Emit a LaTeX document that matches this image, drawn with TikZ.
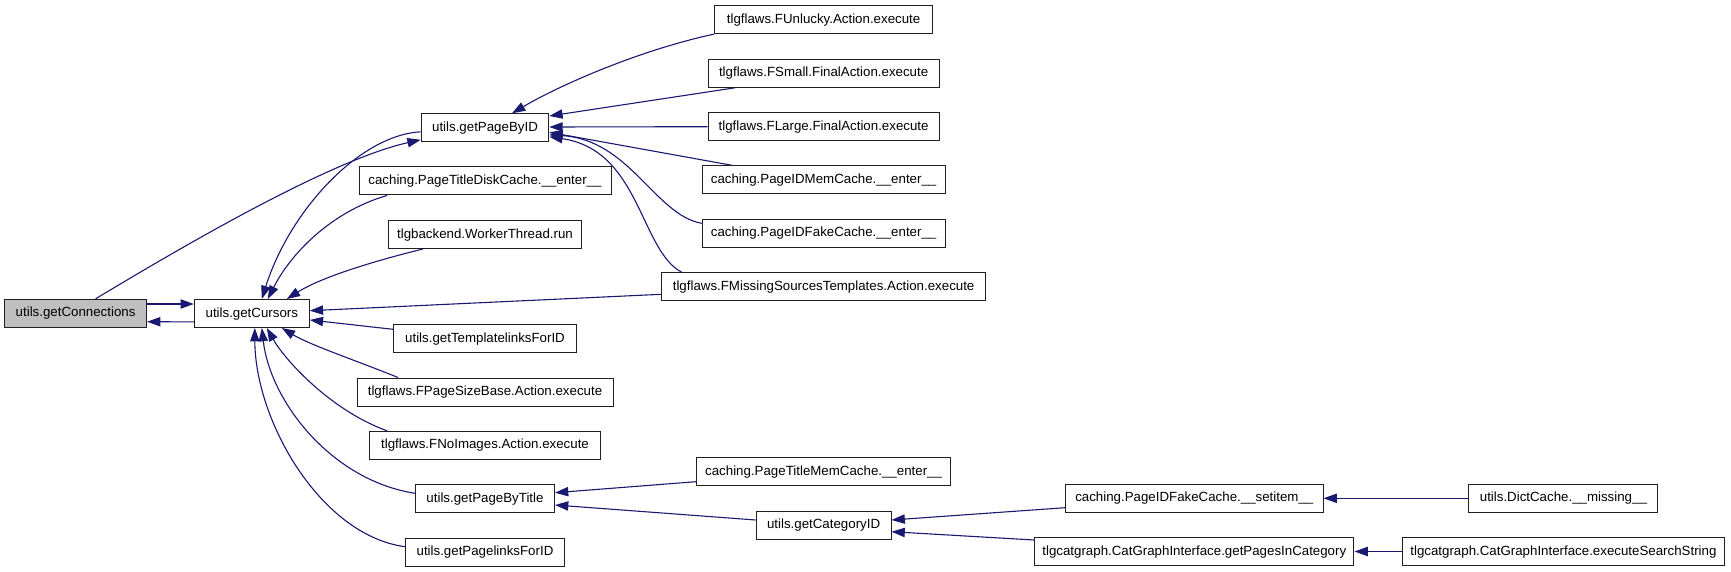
\documentclass[tikz,border=0pt]{standalone}
\usepackage{fontspec}
\setmainfont{Liberation Sans}
\usetikzlibrary{arrows.meta}
\definecolor{edgecol}{HTML}{191970}
\definecolor{hilite}{HTML}{BFBFBF}
\definecolor{boxline}{HTML}{202020}
\begin{document}
\begin{tikzpicture}[x=1pt,y=-1pt,
  box/.style={draw=boxline,line width=1pt,fill=white,rectangle,inner sep=0pt,
    minimum height=28pt,text height=9.8pt,text depth=2.8pt,
    font=\fontsize{13.3}{15}\selectfont},
  edge/.style={draw=edgecol,line width=1.1pt,-{Triangle[length=13.3pt,width=9.3pt]}}]
\useasboundingbox (0,0) rectangle (1731,572);
% column 1
\node[box,fill=hilite,minimum width=142pt] (gc) at (75.6,313.3) {utils.getConnections};
\node[box,minimum width=115pt] (gcur) at (251.8,313.5) {utils.getCursors};
% column 2
\node[box,minimum width=127.6pt] (pbid) at (485,127.8) {utils.getPageByID};
\node[box,minimum width=252pt] (ptdc) at (485,181) {caching.PageTitleDiskCache.\_\_enter\_\_};
\node[box,minimum width=193.6pt] (wtr) at (485,234.5) {tlgbackend.WorkerThread.run};
\node[box,minimum width=183pt] (gtl) at (485,338.5) {utils.getTemplatelinksForID};
\node[box,minimum width=256pt] (fpsb) at (485,392) {tlgflaws.FPageSizeBase.Action.execute};
\node[box,minimum width=230.8pt] (fnoi) at (485,445.3) {tlgflaws.FNoImages.Action.execute};
\node[box,minimum width=139pt] (pbt) at (485,498.7) {utils.getPageByTitle};
\node[box,minimum width=159.3pt] (gpl) at (485,552) {utils.getPagelinksForID};
% column 3
\node[box,minimum width=218.7pt] (funl) at (823.6,19.7) {tlgflaws.FUnlucky.Action.execute};
\node[box,minimum width=230.8pt] (fsml) at (823.6,73.3) {tlgflaws.FSmall.FinalAction.execute};
\node[box,minimum width=230.8pt] (flrg) at (823.6,126.7) {tlgflaws.FLarge.FinalAction.execute};
\node[box,minimum width=242.8pt] (pimc) at (823.6,179.8) {caching.PageIDMemCache.\_\_enter\_\_};
\node[box,minimum width=242.8pt] (pife) at (823.6,233) {caching.PageIDFakeCache.\_\_enter\_\_};
\node[box,minimum width=323.6pt] (fmst) at (823.6,286.7) {tlgflaws.FMissingSourcesTemplates.Action.execute};
\node[box,minimum width=254.5pt] (ptmc) at (823.6,471.7) {caching.PageTitleMemCache.\_\_enter\_\_};
\node[box,minimum width=134.8pt] (gcid) at (823.6,525) {utils.getCategoryID};
% column 4
\node[box,minimum width=257.4pt] (pifs) at (1194.3,498.3) {caching.PageIDFakeCache.\_\_setitem\_\_};
\node[box,minimum width=319.3pt] (gpic) at (1194.3,551.5) {tlgcatgraph.CatGraphInterface.getPagesInCategory};
% column 5
\node[box,minimum width=189pt] (dcm) at (1563.4,498.3) {utils.DictCache.\_\_missing\_\_};
\node[box,minimum width=322.8pt] (ess) at (1563.4,551.5) {tlgcatgraph.CatGraphInterface.executeSearchString};
% edges
\draw[edge] ([yshift=9.3pt]gc.east) -- ([yshift=9.5pt]gcur.west);
\draw[edge] ([yshift=-8.4pt]gcur.west) -- ([yshift=-8.4pt]gc.east);
\draw[edge] ([xshift=20pt]gc.north) .. controls (180,248) and (330,160) .. ([yshift=-12pt]pbid.west);
\draw[edge] ([yshift=-4pt]pbid.west) .. controls (360,135) and (290,210) .. ([xshift=10pt]gcur.north);
\draw[edge] ([xshift=-98pt]ptdc.south) .. controls (330,212) and (290,255) .. ([xshift=16pt]gcur.north);
\draw[edge] ([xshift=-62pt]wtr.south) .. controls (370,262) and (320,278) .. ([xshift=35pt]gcur.north);
\draw[edge] ([yshift=-7.6pt]fmst.west) -- ([yshift=2.8pt]gcur.east);
\draw[edge] ([yshift=9.2pt]gtl.west) -- ([yshift=-6.5pt]gcur.east);
\draw[edge] ([xshift=-87pt]fpsb.north) .. controls (360,362) and (310,345) .. ([xshift=30pt]gcur.south);
\draw[edge] ([xshift=-98pt]fnoi.north) .. controls (330,410) and (285,360) .. ([xshift=15pt]gcur.south);
\draw[edge] ([yshift=5.4pt]pbt.west) .. controls (330,480) and (270,400) .. ([xshift=10pt]gcur.south);
\draw[edge] ([yshift=5.3pt]gpl.west) .. controls (320,535) and (255,420) .. ([xshift=3pt]gcur.south);
\draw[edge] (funl.south west) .. controls (640,50) and (560,85) .. ([xshift=27pt]pbid.north);
\draw[edge] ([xshift=-88.6pt]fsml.south) -- ([yshift=11.8pt]pbid.east);
\draw[edge] (flrg.west) -- ([yshift=0.8pt]pbid.east);
\draw[edge] ([xshift=-91.6pt]pimc.north) -- ([yshift=-4.5pt]pbid.east);
\draw[edge] ([yshift=9.7pt]pife.west) .. controls (655,215) and (630,140) .. ([yshift=-7pt]pbid.east);
\draw[edge] ([xshift=-142pt]fmst.north) .. controls (640,250) and (640,150) .. ([yshift=-9pt]pbid.east);
\draw[edge] ([yshift=-10pt]ptmc.west) -- ([yshift=6pt]pbt.east);
\draw[edge] ([yshift=5pt]gcid.west) -- ([yshift=-6.3pt]pbt.east);
\draw[edge] ([yshift=-9.4pt]pifs.west) -- ([yshift=5pt]gcid.east);
\draw[edge] ([yshift=11.5pt]gpic.west) -- ([yshift=-6.7pt]gcid.east);
\draw[edge] (dcm.west) -- (pifs.east);
\draw[edge] (ess.west) -- (gpic.east);
\end{tikzpicture}
\end{document}
